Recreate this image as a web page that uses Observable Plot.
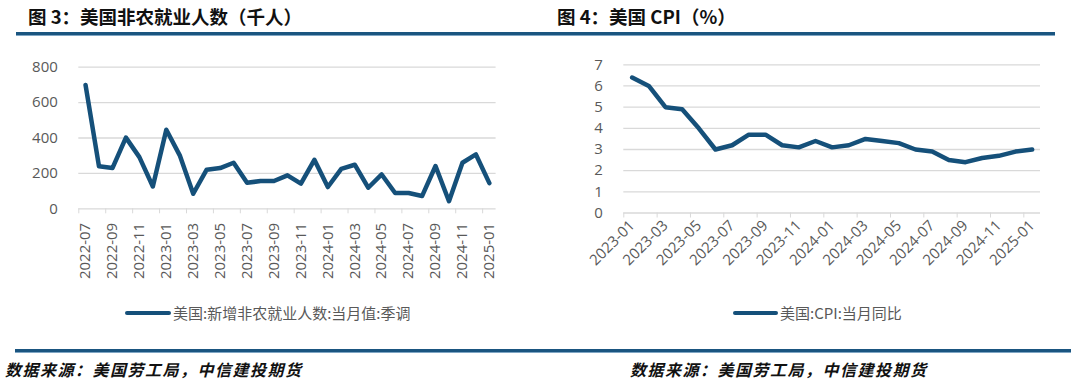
<!DOCTYPE html>
<html>
<head>
<meta charset="utf-8">
<script src="https://cdn.jsdelivr.net/npm/d3@7"></script>
<script src="https://cdn.jsdelivr.net/npm/@observablehq/plot@0.6"></script>
<style>
  html, body { margin: 0; padding: 0; background: #fff; }
  #page { position: relative; width: 1080px; height: 388px; overflow: hidden; background: #fff; font-family: "Noto Sans CJK SC", "Noto Sans", sans-serif; }
  .title { position: absolute; top: 4px; font-size: 18.5px; font-weight: 700; color: #111; line-height: 25px; white-space: nowrap; }
  .rule { position: absolute; height: 3px; background: #1a5580; box-shadow: 0 1px 0 #7fa6c4; }
  .chart { position: absolute; top: 40px; }
  .legend { position: absolute; top: 302px; height: 22px; font-size: 15px; color: #595959; line-height: 22px; white-space: nowrap; }
  .legend .swatch { position: absolute; top: 8.5px; height: 4.5px; border-radius: 3px; background: #15507a; }
  .legend .lbl { position: absolute; top: 0; }
  .source { position: absolute; top: 357px; font-size: 16px; font-weight: 700; font-style: italic; color: #111; letter-spacing: 1.5px; line-height: 24px; white-space: nowrap; }
</style>
</head>
<body>
<div id="page">
  <div class="title" style="left:28px">图 3：美国非农就业人数（千人）</div>
  <div class="title" style="left:557px">图 4：美国 CPI（%）</div>
  <div class="rule" style="left:16px; width:1039px; top:32px"></div>
  <div class="chart" id="left" style="left:0px"></div>
  <div class="chart" id="right" style="left:540px"></div>
  <div class="legend" style="left:0px; width:540px">
    <div class="swatch" style="left:125px; width:46px"></div>
    <div class="lbl" style="left:173px">美国:新增非农就业人数:当月值:季调</div>
  </div>
  <div class="legend" style="left:0px; width:1080px">
    <div class="swatch" style="left:733px; width:45px"></div>
    <div class="lbl" style="left:780px">美国:CPI:当月同比</div>
  </div>
  <div class="rule" style="left:15px; width:1056px; top:349px"></div>
  <div class="source" style="left:5px">数据来源：美国劳工局，中信建投期货</div>
  <div class="source" style="left:630px">数据来源：美国劳工局，中信建投期货</div>
</div>
<script>
// ---- Chart 3: US nonfarm payrolls (thousands) ----
const nfpMonths = [
  "2022-07","2022-08","2022-09","2022-10","2022-11","2022-12",
  "2023-01","2023-02","2023-03","2023-04","2023-05","2023-06",
  "2023-07","2023-08","2023-09","2023-10","2023-11","2023-12",
  "2024-01","2024-02","2024-03","2024-04","2024-05","2024-06",
  "2024-07","2024-08","2024-09","2024-10","2024-11","2024-12",
  "2025-01"
];
const nfpValues = [
  700, 240, 230, 402, 292, 126,
  447, 302, 85, 221, 230, 260,
  147, 157, 157, 189, 142, 277,
  123, 226, 249, 119, 194, 89,
  89, 72, 242, 43, 260, 307,
  145
];
const nfpYTicks = [0, 200, 400, 600, 800];
const nfpXLabels = ["2022-07","2022-09","2022-11","2023-01","2023-03","2023-05","2023-07","2023-09","2023-11","2024-01","2024-03","2024-05","2024-07","2024-09","2024-11","2025-01"];
const nfpLegend = "美国:新增非农就业人数:当月值:季调";

// ---- Chart 4: US CPI YoY (%) ----
const cpiMonths = [
  "2023-01","2023-02","2023-03","2023-04","2023-05","2023-06",
  "2023-07","2023-08","2023-09","2023-10","2023-11","2023-12",
  "2024-01","2024-02","2024-03","2024-04","2024-05","2024-06",
  "2024-07","2024-08","2024-09","2024-10","2024-11","2024-12",
  "2025-01"
];
const cpiValues = [
  6.4, 6.0, 5.0, 4.9, 4.0, 3.0,
  3.2, 3.7, 3.7, 3.2, 3.1, 3.4,
  3.1, 3.2, 3.5, 3.4, 3.3, 3.0,
  2.9, 2.5, 2.4, 2.6, 2.7, 2.9,
  3.0
];
const cpiYTicks = [0, 1, 2, 3, 4, 5, 6, 7];
const cpiXLabels = ["2023-01","2023-03","2023-05","2023-07","2023-09","2023-11","2024-01","2024-03","2024-05","2024-07","2024-09","2024-11","2025-01"];
const cpiLegend = "美国:CPI:当月同比";

const LINE = "#15507a";
const GRID = "#d9d9d9";
const TXT = "#595959";

function makeChart({months, values, yTicks, xLabels, yDomain, margins, rotate, pad}) {
  const data = months.map((m, i) => ({i, m, v: values[i]}));
  const labelIdx = xLabels.map(l => months.indexOf(l));
  const bounds = labelIdx.map(i => i - 0.5);
  return Plot.plot({
    width: 540,
    height: 250,
    ...margins,
    style: {fontFamily: "'Open Sans', 'Noto Sans', sans-serif", fontSize: "15px", color: TXT, background: "transparent", overflow: "visible"},
    x: {type: "linear", domain: [-0.5, months.length - 0.5]},
    y: {domain: yDomain},
    marks: [
      Plot.gridY(yTicks.filter(d => d > 0), {stroke: GRID, strokeOpacity: 1, strokeWidth: 1.3}),
      Plot.ruleY([0], {stroke: GRID, strokeWidth: 1.3}),
      Plot.axisY({ticks: yTicks, tickSize: 0, tickPadding: 21, tickFormat: d => String(d), label: null, fill: TXT}),
      Plot.axisX({ticks: bounds, tickSize: 5, tickFormat: () => "", stroke: GRID, strokeOpacity: 1, label: null}),
      Plot.axisX({ticks: labelIdx, tickSize: 0, tickPadding: pad, tickRotate: rotate, tickFormat: i => months[i], label: null, fill: TXT}),
      Plot.line(data, {x: "i", y: "v", stroke: LINE, strokeWidth: 4.5, strokeLinejoin: "round", strokeLinecap: "round"})
    ]
  });
}

document.getElementById("left").appendChild(makeChart({
  months: nfpMonths, values: nfpValues, yTicks: nfpYTicks, xLabels: nfpXLabels,
  yDomain: [0, 800],
  margins: {marginLeft: 78.3, marginRight: 44.4, marginTop: 26.7, marginBottom: 81.7},
  rotate: -90, pad: 14
}));
document.getElementById("right").appendChild(makeChart({
  months: cpiMonths, values: cpiValues, yTicks: cpiYTicks, xLabels: cpiXLabels,
  yDomain: [0, 7],
  margins: {marginLeft: 83.3, marginRight: 40, marginTop: 24.3, marginBottom: 77.5},
  rotate: -45, pad: 10
}));
</script>
</body>
</html>
